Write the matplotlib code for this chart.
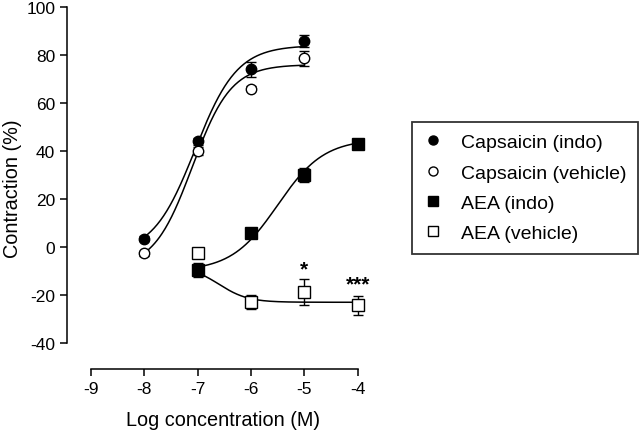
import numpy as np
import matplotlib
matplotlib.use("Agg")
import matplotlib.pyplot as plt
from matplotlib.lines import Line2D

plt.rcParams['font.family'] = ['Liberation Sans', 'DejaVu Sans']
plt.rcParams['axes.unicode_minus'] = False

# Data
log_conc_caps = [-8, -7, -6, -5]
caps_indo = [3.5, 44, 74, 86]
caps_indo_err = [1.0, 1.5, 3.0, 2.5]
caps_veh = [-2.6, 40, 66, 78.6]
caps_veh_err = [1.0, 1.5, 1.0, 3.0]

log_conc_aea = [-7, -6, -5, -4]
aea_indo = [-9.6, 5.7, 30.1, 42.8]
aea_indo_err = [3.0, 1.0, 3.0, 1.0]
aea_veh = [-2.6, -23, -18.6, -24.2]
aea_veh_err = [1.5, 3.0, 5.5, 4.0]

# fitted sigmoid parameters (bottom, top, logEC50, hill)
fit_caps_indo = (-3, 84, -7.05, 1.1)
fit_caps_veh = (-9, 76, -7.1, 1.2)
fit_aea_indo = (-10, 45, -5.5, 1.0)
fit_aea_veh = (-8, -23, -6.6, 1.6)

def sigmoid(x, p):
    b, t, ec, h = p
    return b + (t - b) / (1 + 10 ** ((ec - x) * h))

def sigmoid_down(x, p):
    top, bot, ec, h = p
    return bot + (top - bot) / (1 + 10 ** ((x - ec) * h))

fig = plt.figure(figsize=(6.4, 4.31), dpi=100)
ax = fig.add_axes([67/640, 1-370/431, (379-67)/640, (370-8)/431])
ax.set_xlim(-9.45, -3.6)
ax.set_ylim(-50.8, 100)

xc = np.linspace(-8, -5, 200)
xa = np.linspace(-7, -4, 200)
ax.plot(xc, sigmoid(xc, fit_caps_indo), color='black', lw=1.1)
ax.plot(xc, sigmoid(xc, fit_caps_veh), color='black', lw=1.1)
ax.plot(xa, sigmoid(xa, fit_aea_indo), color='black', lw=1.1)
ax.plot(xa, sigmoid_down(xa, fit_aea_veh), color='black', lw=1.1)

ekw = dict(ecolor='black', elinewidth=1.0, capsize=3.5, capthick=1.0, linestyle='none')
ax.errorbar(log_conc_caps, caps_indo, yerr=caps_indo_err, marker='o', ms=7.5,
            mfc='black', mec='black', **ekw)
ax.errorbar(log_conc_caps, caps_veh, yerr=caps_veh_err, marker='o', ms=7.5,
            mfc='white', mec='black', mew=1.0, **ekw)
ax.errorbar(log_conc_aea, aea_indo, yerr=aea_indo_err, marker='s', ms=9,
            mfc='black', mec='black', **ekw)
ax.errorbar(log_conc_aea, aea_veh, yerr=aea_veh_err, marker='s', ms=9,
            mfc='white', mec='black', mew=1.0, **ekw)

ax.text(-5, -9, '*', ha='center', va='center', fontsize=15, fontweight='bold')
ax.text(-4, -15.5, '***', ha='center', va='center', fontsize=15, fontweight='bold')

for s in ['top', 'right']:
    ax.spines[s].set_visible(False)
ax.spines['left'].set_bounds(-40, 100)
ax.spines['bottom'].set_bounds(-9, -4)
ax.spines['left'].set_linewidth(1.1)
ax.spines['bottom'].set_linewidth(1.1)
ax.set_xticks([-9, -8, -7, -6, -5, -4])
ax.set_yticks([-40, -20, 0, 20, 40, 60, 80, 100])
ax.tick_params(axis='both', labelsize=12.5, width=1.1, length=5, direction='out')
ax.set_xlabel('Log concentration (M)', fontsize=14.3, labelpad=10)
ax.set_ylabel('Contraction (%)', fontsize=14.3, labelpad=3)

handles = [
    Line2D([], [], marker='o', color='black', mfc='black', ls='none', ms=6.5),
    Line2D([], [], marker='o', color='black', mfc='white', ls='none', ms=6.5),
    Line2D([], [], marker='s', color='black', mfc='black', ls='none', ms=6.5),
    Line2D([], [], marker='s', color='black', mfc='white', ls='none', ms=6.5),
]
labels = ['Capsaicin (indo)', 'Capsaicin (vehicle)', 'AEA (indo)', 'AEA (vehicle)']
leg = fig.legend(handles, labels, loc='upper left', bbox_to_anchor=(412/640, 1-123/431),
                 fontsize=14, frameon=True, fancybox=False, edgecolor='black',
                 handlelength=1.0, handletextpad=0.9, labelspacing=0.65,
                 borderpad=0.6, borderaxespad=0)
leg.get_frame().set_linewidth(1.3)

fig.savefig('out.png', dpi=100)
